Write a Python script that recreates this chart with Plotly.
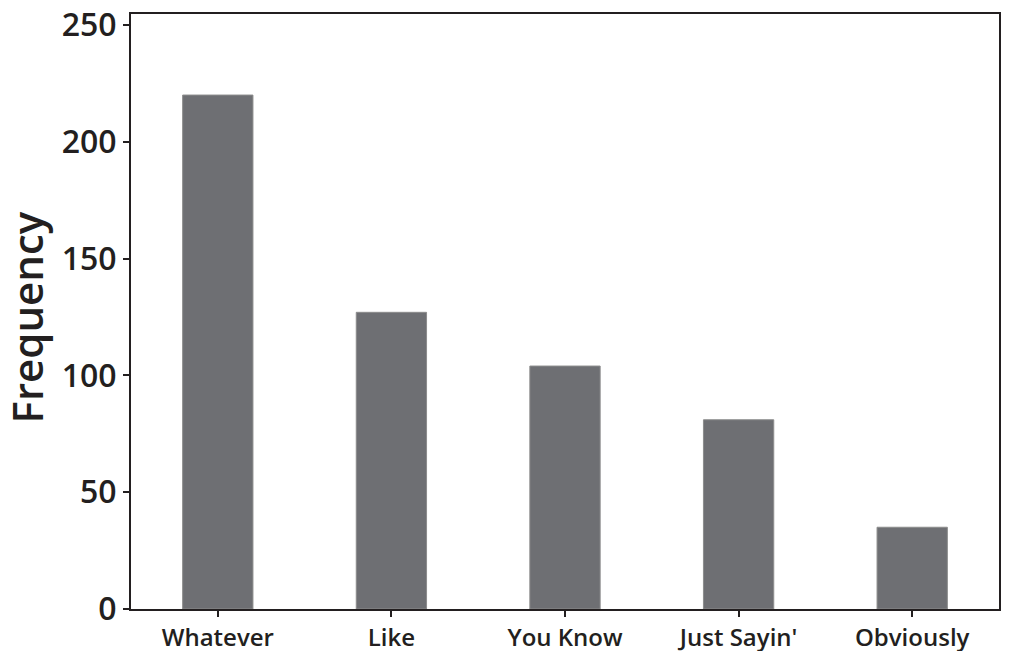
import plotly.graph_objects as go

categories = ["Whatever", "Like", "You Know", "Just Sayin'", "Obviously"]
frequency = [220, 127, 104, 81, 35]
y_ticks = [0, 50, 100, 150, 200, 250]
y_title = "Frequency"

fig = go.Figure(
    go.Bar(
        x=categories,
        y=frequency,
        marker=dict(color="#6e6f73", line=dict(color="#8c8c8c", width=1)),
        width=0.405,
    )
)

axis_color = "#231f20"
fig.update_layout(
    width=1013,
    height=651,
    margin=dict(l=123, r=22, t=6, b=50),
    paper_bgcolor="white",
    plot_bgcolor="white",
    showlegend=False,
    font=dict(family="Open Sans", color=axis_color),
)
fig.add_annotation(
    text=y_title, textangle=-90, showarrow=False,
    xref="paper", yref="paper", x=-0.121, y=0.49,
    xanchor="center", yanchor="middle",
    font=dict(family="Open Sans", size=42, weight=600, color=axis_color),
)
fig.update_xaxes(
    range=[-0.5, 4.5],
    automargin=False,
    showline=True, linecolor=axis_color, linewidth=2, mirror=True,
    ticks="outside", ticklen=6, tickwidth=2, tickcolor=axis_color,
    tickfont=dict(family="Open Sans", size=24, weight=600, color=axis_color),
    ticklabeloverflow="allow",
    showgrid=False,
)
fig.update_yaxes(
    range=[0, 254.7],
    automargin=False,
    tickvals=y_ticks,
    showline=True, linecolor=axis_color, linewidth=2, mirror=True,
    ticks="outside", ticklen=6, tickwidth=2, tickcolor=axis_color,
    tickfont=dict(family="Open Sans", size=32, weight=600, color=axis_color),
    ticklabeloverflow="allow",
    showgrid=False, zeroline=False,
)

fig.write_html("out.html")
